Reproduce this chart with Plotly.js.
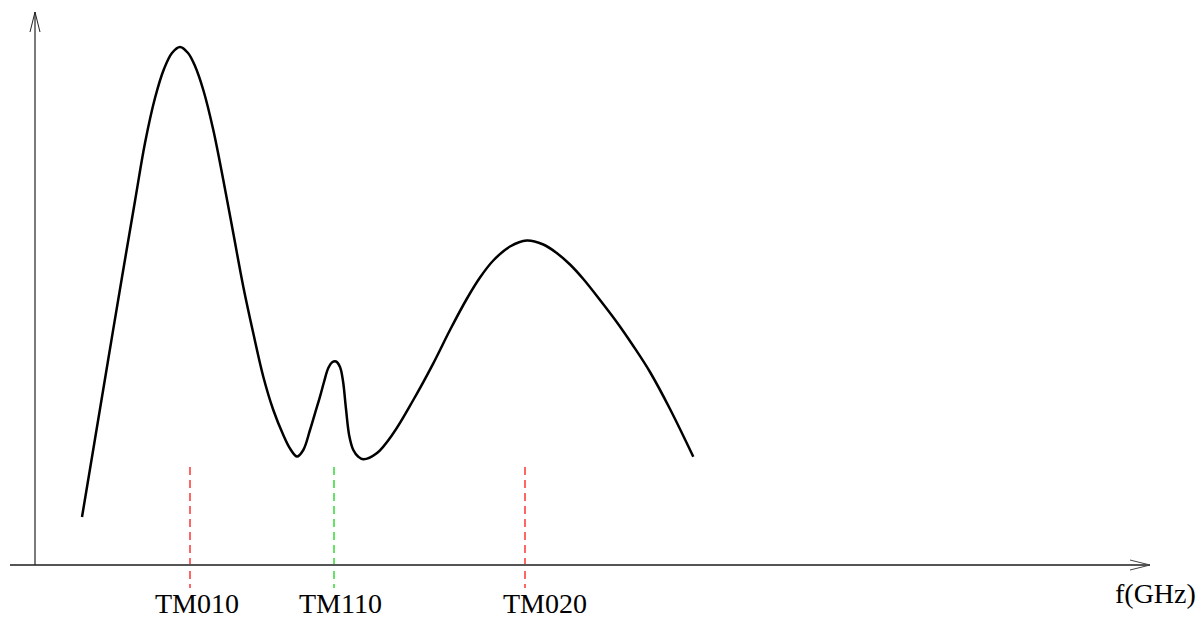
<!DOCTYPE html>
<html>
<head>
<meta charset="utf-8">
<script src="https://cdn.plot.ly/plotly-3.0.1.min.js"></script>
<style>
html,body{margin:0;padding:0;background:#fff;}
#chart{width:1203px;height:620px;}
</style>
</head>
<body>
<div id="chart"></div>
<script>
// Response curve (arbitrary frequency units, arbitrary amplitude)
var freq = [4.7, 6.0, 7.33, 8.67, 10.0, 11.0, 12.0, 12.9, 13.7, 14.5, 15.3, 16.0, 16.83, 17.83,
            18.83, 19.83, 20.83, 21.83, 22.83, 23.83, 24.83, 25.5, 26.2,
            26.83, 27.5, 28.0, 28.5, 28.9, 29.33, 29.75, 30.1, 30.5, 30.8, 31.1, 31.43, 31.83,
            32.33, 32.83, 34.17, 35.83, 37.83, 39.83, 41.5, 43.17, 44.5, 45.83, 47.5, 49.17, 50.83,
            52.17, 53.5, 54.83, 56.5, 58.17, 59.83, 61.5, 63.5, 65.83];
var amplitude = [4.8, 12.6, 20.6, 28.6, 36.4, 42.2, 46.7, 49.6, 51.2, 51.8, 51.2, 49.9, 47.5, 43.5,
                 38.5, 33.17, 27.83, 23.17, 18.83, 15.5, 13.0, 11.65, 10.85,
                 11.5, 13.5, 15.17, 16.83, 18.3, 19.7, 20.3, 20.35, 19.8, 18.4, 15.6, 12.9, 11.5,
                 10.83, 10.57, 11.17, 13.17, 16.5, 20.17, 23.5, 26.6, 28.75, 30.45, 31.85, 32.45, 32.05,
                 31.2, 30.05, 28.6, 26.5, 24.3, 21.9, 19.3, 15.6, 10.83];

// Resonant modes
var modeNames = ["TM010", "TM110", "TM020"];
var modeFreq = [15.5, 29.9, 49.0];
var modeLabelX = [16.2, 30.5, 51.0];
var modeColors = ["#ff0000", "#00d000", "#ff0000"];
var modeTop = 9.8;
var modeBottom = -2.3;

var xAxisLabel = "f(GHz)";

// axis frame (drawing units)
var xMin = -3.5, xMax = 116.8, yMin = -5.5, yMax = 56.5;
var axisXStart = -2.5, axisXEnd = 111.5, axisYEnd = 55.3;
var headLen = 2.0, headHalfX = 0.5, headLenY = 2.0, headHalfY = 0.5;

var serif = "'Liberation Serif', 'Times New Roman', Times, serif";

var traces = [];
for (var i = 0; i < modeNames.length; i++) {
  traces.push({
    x: [modeFreq[i], modeFreq[i]],
    y: [modeTop, modeBottom],
    mode: "lines",
    line: {color: modeColors[i], width: 1.2, dash: "8px,5px"},
    hoverinfo: "skip",
    showlegend: false
  });
}
traces.push({
  x: freq, y: amplitude,
  mode: "lines",
  line: {color: "#000", width: 2.5, shape: "spline", smoothing: 1, simplify: false},
  showlegend: false
});

var annotations = [];
for (var j = 0; j < modeNames.length; j++) {
  annotations.push({
    x: modeLabelX[j], y: -3.8, xref: "x", yref: "y",
    text: modeNames[j], showarrow: false,
    xanchor: "center", yanchor: "middle",
    font: {family: serif, size: 28, color: "#000"}
  });
}
annotations.push({
  x: 112.0, y: -2.8, xref: "x", yref: "y",
  text: xAxisLabel, showarrow: false,
  xanchor: "center", yanchor: "middle",
  font: {family: serif, size: 28, color: "#000"}
});

var shapes = [
  // x axis
  {type: "line", xref: "x", yref: "y", x0: axisXStart, x1: axisXEnd, y0: 0, y1: 0,
   line: {color: "#555", width: 2}},
  {type: "path", xref: "x", yref: "y",
   path: "M " + (axisXEnd - headLen) + " " + headHalfX + " L " + axisXEnd + " 0 L " + (axisXEnd - headLen) + " " + (-headHalfX),
   line: {color: "#444", width: 1}},
  // y axis
  {type: "line", xref: "x", yref: "y", x0: 0, x1: 0, y0: 0, y1: axisYEnd,
   line: {color: "#222", width: 1.2}},
  {type: "path", xref: "x", yref: "y",
   path: "M " + (-headHalfY) + " " + (axisYEnd - headLenY) + " L 0 " + axisYEnd + " L " + headHalfY + " " + (axisYEnd - headLenY),
   line: {color: "#222", width: 1}}
];

var layout = {
  width: 1203, height: 620,
  margin: {l: 0, r: 0, t: 0, b: 0},
  paper_bgcolor: "#fff", plot_bgcolor: "#fff",
  showlegend: false,
  font: {family: serif},
  xaxis: {range: [xMin, xMax], visible: false, showgrid: false, zeroline: false, fixedrange: true},
  yaxis: {range: [yMin, yMax], visible: false, showgrid: false, zeroline: false, fixedrange: true},
  shapes: shapes,
  annotations: annotations
};

Plotly.newPlot("chart", traces, layout, {staticPlot: true, displayModeBar: false});
</script>
</body>
</html>
